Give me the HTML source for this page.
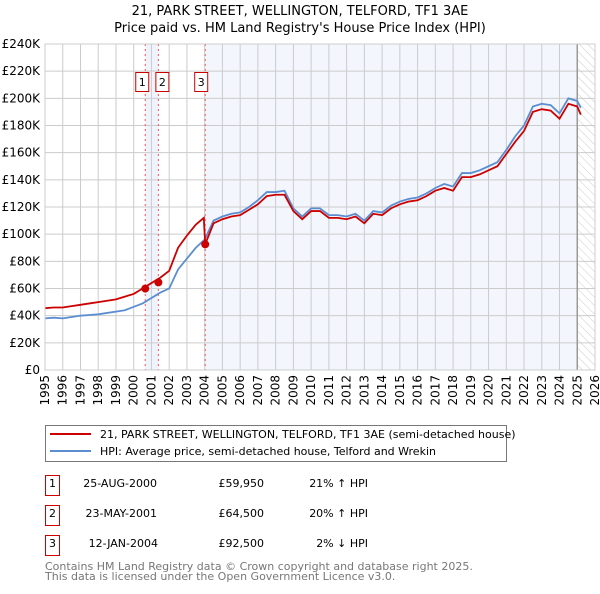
<!DOCTYPE html>
<html><head><meta charset="utf-8"><style>
body{margin:0;background:#fff;width:600px;height:590px;overflow:hidden;font-family:"DejaVu Sans","Liberation Sans",sans-serif;}
svg text{font-family:"DejaVu Sans","Liberation Sans",sans-serif;}
</style></head><body>
<svg id="chart" width="600" height="590" xmlns="http://www.w3.org/2000/svg">
<defs><pattern id="hatch" width="6" height="6" patternUnits="userSpaceOnUse" patternTransform="rotate(-45)"><line x1="0" y1="0" x2="0" y2="6" stroke="#ccc" stroke-width="1"/></pattern></defs>
<text x="300" y="15" font-size="13" text-anchor="middle">21, PARK STREET, WELLINGTON, TELFORD, TF1 3AE</text>
<text x="300" y="32" font-size="13" text-anchor="middle">Price paid vs. HM Land Registry's House Price Index (HPI)</text>
<g id="plot"></g>
<rect x="45.5" y="425.5" width="461" height="36" fill="#fff" stroke="#777"/>
<line x1="50" y1="434" x2="91" y2="434" stroke="#cc0000" stroke-width="2"/>
<text x="100" y="438" font-size="11">21, PARK STREET, WELLINGTON, TELFORD, TF1 3AE (semi-detached house)</text>
<line x1="50" y1="451" x2="91" y2="451" stroke="#5b8ed0" stroke-width="2"/>
<text x="100" y="455" font-size="11">HPI: Average price, semi-detached house, Telford and Wrekin</text>
<g font-size="11">
<rect x="45.5" y="475.5" width="14" height="20" fill="#fff" stroke="#cc0000"/><text x="52.5" y="487" text-anchor="middle">1</text>
<text x="157" y="487" text-anchor="end">25-AUG-2000</text><text x="264" y="487" text-anchor="end">£59,950</text><text x="368" y="487" text-anchor="end">21% ↑ HPI</text>
<rect x="45.5" y="505.5" width="14" height="20" fill="#fff" stroke="#cc0000"/><text x="52.5" y="517" text-anchor="middle">2</text>
<text x="157" y="517" text-anchor="end">23-MAY-2001</text><text x="264" y="517" text-anchor="end">£64,500</text><text x="368" y="517" text-anchor="end">20% ↑ HPI</text>
<rect x="45.5" y="535.5" width="14" height="20" fill="#fff" stroke="#cc0000"/><text x="52.5" y="547" text-anchor="middle">3</text>
<text x="158" y="547" text-anchor="end">12-JAN-2004</text><text x="264" y="547" text-anchor="end">£92,500</text><text x="368" y="547" text-anchor="end">2% ↓ HPI</text>
</g>
<text x="45" y="570" font-size="11" fill="#777">Contains HM Land Registry data © Crown copyright and database right 2025.</text>
<text x="45" y="580" font-size="11" fill="#777">This data is licensed under the Open Government Licence v3.0.</text>
</svg>
<script>
const hpiYears=[1995,1995.5,1996,1996.5,1997,1997.5,1998,1998.5,1999,1999.5,2000,2000.5,2001,2001.5,2002,2002.5,2003,2003.5,2004,2004.5,2005,2005.5,2006,2006.5,2007,2007.5,2008,2008.5,2009,2009.5,2010,2010.5,2011,2011.5,2012,2012.5,2013,2013.5,2014,2014.5,2015,2015.5,2016,2016.5,2017,2017.5,2018,2018.5,2019,2019.5,2020,2020.5,2021,2021.5,2022,2022.5,2023,2023.5,2024,2024.5,2025,2025.2];
const hpiValues=[38,38.5,38,39,40,40.5,41,42,43,44,46.5,49,53,57,60,74,82,90,96,110,113,115,116,120,125,131,131,132,119,113,119,119,114,114,113,115,110,117,116,121,124,126,127,130,134,137,135,145,145,147,150,153,162,172,180,194,196,195,189,200,198,193];
const priceYears=[1995,1995.5,1996,1996.5,1997,1997.5,1998,1998.5,1999,1999.5,2000,2000.5,2001,2001.5,2002,2002.5,2003,2003.5,2003.95,2004.03,2004.5,2005,2005.5,2006,2006.5,2007,2007.5,2008,2008.5,2009,2009.5,2010,2010.5,2011,2011.5,2012,2012.5,2013,2013.5,2014,2014.5,2015,2015.5,2016,2016.5,2017,2017.5,2018,2018.5,2019,2019.5,2020,2020.5,2021,2021.5,2022,2022.5,2023,2023.5,2024,2024.5,2025,2025.2];
const priceValues=[45.5,46,46,47,48,49,50,51,52,54,56,60,64,68,73,90,99,107,112,92.5,108,111,113,114,118,122,128,129,129,117,111,117,117,112,112,111,113,108,115,114,119,122,124,125,128,132,134,132,142,142,144,147,150,159,168,176,190,192,191,185,196,194,188];
const saleYears=[2000.65,2001.39,2004.03];
const saleValues=[59.95,64.5,92.5];
const saleLabels=["1","2","3"];
const yTicks=[0,20,40,60,80,100,120,140,160,180,200,220,240];
const xTicks=[1995,1996,1997,1998,1999,2000,2001,2002,2003,2004,2005,2006,2007,2008,2009,2010,2011,2012,2013,2014,2015,2016,2017,2018,2019,2020,2021,2022,2023,2024,2025,2026];
const X0=45,X1=595,Y0=370,Y1=44;
const sx=y=>X0+(y-1995)/(2026-1995)*(X1-X0);
const sy=v=>Y0-v/240*(Y0-Y1);
const NS="http://www.w3.org/2000/svg";
const g=document.getElementById('plot');
function mk(t,a,p){const e=document.createElementNS(NS,t);for(const k in a)e.setAttribute(k,a[k]);(p||g).appendChild(e);return e;}
mk('rect',{x:X0,y:Y1,width:X1-X0,height:Y0-Y1,fill:'#fff'});
let band=mk('rect',{x:sx(saleYears[0]),y:Y1,width:sx(saleYears[1])-sx(saleYears[0]),height:Y0-Y1,fill:'#eef3fc'});


let band2=mk('rect',{x:sx(saleYears[2]),y:Y1,width:sx(2025)-sx(saleYears[2]),height:Y0-Y1,fill:'#f3f6fd'});


let hat=mk('rect',{x:sx(2025),y:Y1,width:X1-sx(2025),height:Y0-Y1,fill:'url(#hatch)'});


yTicks.forEach(v=>{
 mk('line',{x1:X0,x2:X1,y1:sy(v),y2:sy(v),stroke:'#ccc'});
 const t=mk('text',{x:X0-5,y:sy(v)+4,'font-size':12,'text-anchor':'end'});t.textContent=v===0?'£0':'£'+v+'K';
 
 
});
xTicks.forEach(y=>{
 mk('line',{x1:sx(y),x2:sx(y),y1:Y1,y2:Y0,stroke:'#ccc'});
 const tx=sx(y)+4, ty=Y0+5;
 const t=mk('text',{x:tx,y:ty,'font-size':12,'text-anchor':'end',transform:'rotate(-90 '+tx+' '+ty+')'});t.textContent=y;
 
 
});
mk('line',{x1:sx(2025),x2:sx(2025),y1:Y1,y2:Y0,stroke:'#999','stroke-width':1.5});
saleYears.forEach((y,i)=>{
 const l=mk('line',{x1:sx(y),x2:sx(y),y1:Y1,y2:Y0,stroke:'#ee5555','stroke-dasharray':'2,3'});
 
 
});
const hp=mk('polyline',{points:hpiYears.map((y,i)=>sx(y)+','+sy(hpiValues[i])).join(' '),fill:'none',stroke:'#5b8ed0','stroke-width':1.8});


const pp=mk('polyline',{points:priceYears.map((y,i)=>sx(y)+','+sy(priceValues[i])).join(' '),fill:'none',stroke:'#cc0000','stroke-width':1.8});


saleYears.forEach((y,i)=>{
 const c=mk('circle',{cx:sx(y),cy:sy(saleValues[i]),r:4,fill:'#cc0000'});
 
 
 const bx=i===1?sx(y)-3:(i===0?sx(y)-10:sx(y)-11);
 const r=mk('rect',{x:bx+0.5,y:72.5,width:13,height:19,fill:'#fff',stroke:'#cc0000'});
 
 
 const t=mk('text',{x:bx+7,y:86,'font-size':11,'text-anchor':'middle'});t.textContent=saleLabels[i];
 
 
});
mk('rect',{x:X0,y:Y1,width:X1-X0,height:Y0-Y1,fill:'none',stroke:'#ccc'});
</script>
</body></html>
